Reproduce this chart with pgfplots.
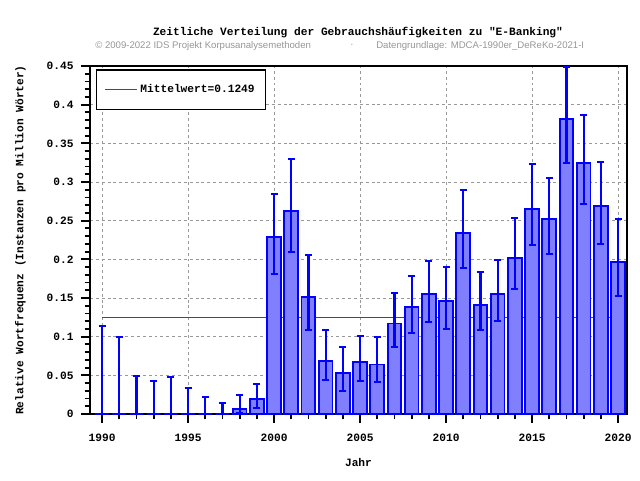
\documentclass[border=0pt]{standalone}
\usepackage{pgfplots}
\pgfplotsset{compat=1.18}
\usepackage{pgfplotstable}
\usepackage{fontspec}
\setmainfont{Liberation Sans}
\newfontfamily\monob{Liberation Mono}[BoldFont={Liberation Mono Bold}]
\newcommand\mf{\monob\bfseries\fontsize{8.4}{10}\selectfont}
\definecolor{barfill}{RGB}{128,128,255}
\definecolor{barblue}{RGB}{0,0,255}
\definecolor{subgray}{RGB}{150,150,150}
\pgfplotstableread{
x y ep em
1990 0 0.114 0
1991 0 0.100 0
1992 0 0.0496 0
1993 0 0.043 0
1994 0 0.048 0
1995 0 0.034 0
1996 0 0.0224 0
1997 0 0.0146 0
1998 0.0069 0.018 0.006
1999 0.019 0.020 0.011
2000 0.2285 0.0565 0.0475
2001 0.263 0.067 0.053
2002 0.151 0.055 0.042
2003 0.069 0.039 0.025
2004 0.0526 0.0344 0.0226
2005 0.0668 0.0342 0.0238
2006 0.064 0.035 0.022
2007 0.117 0.040 0.030
2008 0.138 0.041 0.033
2009 0.155 0.043 0.036
2010 0.1457 0.0443 0.0357
2011 0.2345 0.0555 0.0455
2012 0.1414 0.0426 0.0324
2013 0.1556 0.044 0.0349
2014 0.202 0.052 0.040
2015 0.2655 0.0582 0.0465
2016 0.2526 0.053 0.0456
2017 0.382 0.067 0.057
2018 0.325 0.062 0.053
2019 0.2686 0.0574 0.0486
2020 0.197 0.055 0.044
}\datatable
\begin{document}
\begin{tikzpicture}[x=0.75pt,y=0.75pt]
\useasboundingbox (0,0) rectangle (640,480);
\node[font=\mf] at (358,447) {Zeitliche Verteilung der Gebrauchshäufigkeiten zu "E-Banking"};
\node[font=\fontsize{7.2}{9}\selectfont, text=subgray, anchor=west, inner sep=0] at (95,434) {© 2009-2022 IDS Projekt Korpusanalysemethoden};
\node[font=\fontsize{7.2}{9}\selectfont, text=subgray, inner sep=0] at (352,434) {·};
\node[font=\fontsize{7.2}{9}\selectfont, text=subgray, anchor=west, inner sep=0] at (376,434) {Datengrundlage: MDCA-1990er\_DeReKo-2021-I};
\begin{axis}[
  at={(67.5pt,49.5pt)}, anchor=south west,
  scale only axis, width=402.75pt, height=261pt,
  xmin=1989.3, xmax=2020.52, ymin=0, ymax=0.45,
  xtick={1990,1995,...,2020}, minor x tick num=4,
  ytick={0,0.05,...,0.451}, minor y tick num=4,
  xticklabel style={font=\mf, yshift=-5pt},
  yticklabel style={font=\mf, xshift=-2pt},
  yticklabels={0,0.05,0.1,0.15,0.2,0.25,0.3,0.35,0.4,0.45},
  xticklabel={\pgfmathprintnumber[1000 sep={}]{\tick}},
  /pgf/number format/assume math mode=true,
  tick align=outside, xtick pos=bottom, ytick pos=left,
  major tick length=6.75pt, minor tick length=4pt,
  tick style={black, line width=1.4pt},
  axis line style={black, line width=1.6pt},
  grid=major,
  major grid style={gray!80, line width=0.6pt, dash pattern=on 2.2pt off 2.2pt},
  xlabel={Jahr}, xlabel style={font=\mf, yshift=-5.5pt},
  ylabel={Relative Wortfrequenz (Instanzen pro Million Wörter)},
  ylabel style={font=\mf, yshift=9pt},
  legend style={at={(0.011,0.99)}, anchor=north west, font=\mf, draw=black, line width=0.8pt,
    inner xsep=6pt, inner ysep=9pt},
  legend cell align=left,
]
\addplot[red, line width=0.75pt, legend image code/.code={\draw[red, line width=0.8pt] (0cm,0cm) -- (0.85cm,0cm);}] coordinates {(1990,0.1249) (2020,0.1249)};
\addlegendentry{Mittelwert=0.1249}
\addplot[ybar, bar width=0.8, fill=barfill, draw=barblue, line width=1.4pt, forget plot,
  error bars/.cd, y dir=both, y explicit,
  error bar style={barblue, line width=1.6pt, solid},
  error mark options={rotate=90, mark size=2.6pt, line width=1.5pt, barblue}]
  table[x=x, y=y, y error plus=ep, y error minus=em] {\datatable};
\end{axis}
\end{tikzpicture}
\end{document}
